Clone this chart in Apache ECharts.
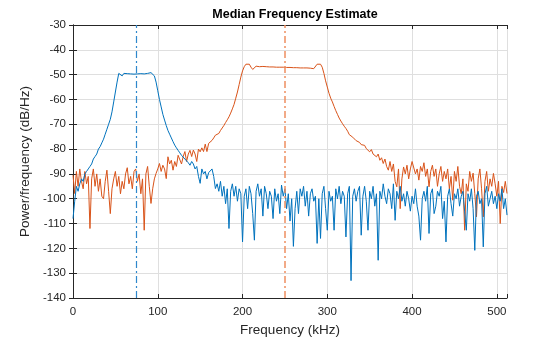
<!DOCTYPE html>
<html>
<head>
<meta charset="utf-8">
<script src="https://cdn.jsdelivr.net/npm/echarts@6/dist/echarts.min.js"></script>
<style>html,body{margin:0;padding:0;background:#fff;}#c{width:560px;height:337px;}</style>
</head>
<body>
<div id="c"></div>
<script>
// Frequency grid (kHz), step between samples
const freqStep = 2;
const xTicks = [0, 100, 200, 300, 400, 500];
const yTicks = [-140, -130, -120, -110, -100, -90, -80, -70, -60, -50, -40, -30];
const medianFreqBlue = 75;
const medianFreqOrange = 250;

// Series 1 (blue) power in dB/Hz at 0,2,4,...,512 kHz
const powerBlue = [
-108,-101,-95,-97,-94,-92,-93,-90,-89,-88,
-87,-86,-84,-83,-82,-80,-79,-77.5,-76,-74,
-72,-70,-68,-65,-61,-57,-53,-49.5,-49,-50.5,
-49.5,-50.2,-49.6,-50.1,-49.7,-50,-49.8,-50.1,-49.7,-50,
-49.6,-50.2,-49.7,-50.1,-49.5,-50.3,-49.2,-48.9,-50.5,-53,
-56.5,-60,-63,-66,-68.3,-70.5,-72.5,-74,-75.5,-77,
-78.4,-79.5,-80.5,-81.5,-82.5,-83.2,-84,-84.8,-85.5,-86.5,
-85,-86,-88,-87,-91,-93.8,-88,-90,-89,-92,
-89.5,-90,-88,-91,-95.9,-94,-97,-93,-99,-95,
-102,-96,-112,-97,-94,-99,-95,-101,-96,-98,
-117.4,-99,-96,-104,-95,-98,-106,-116.7,-97,-94,
-99,-96,-107,-95,-98,-104,-97,-99,-108,-96,
-101,-98,-106,-94.5,-99,-96,-104,-98,-109,-100,
-119.2,-104,-97,-106,-96,-99,-95,-103,-97,-107,
-98,-96,-101,-99,-118,-100,-116,-98,-95,-104,
-112.7,-97,-101,-99,-112.7,-96,-100,-95,-102,-97,
-99,-115.4,-98,-95,-133,-99,-96,-101,-97,-95,
-114.7,-99,-95,-101,-112.7,-97,-100,-95,-103,-98,
-124.8,-97,-100,-94,-99,-102,-96,-98,-104,-94,
-108.7,-97,-100,-95,-101,-98,-103,-97,-100,-105,
-99,-102,-96,-103,-107,-116.7,-100,-97,-101,-95,
-114,-98,-96,-106,-103,-97,-99,-95,-108,-101,
-117.4,-99,-96,-102,-107,-98,-100,-96,-103,-99,
-97,-105,-112.7,-98,-101,-96,-104,-120.8,-99,-97,
-102,-100,-119.4,-98,-95,-103,-100,-97,-102,-99,
-104,-98,-101,-96,-104,-100,-106.6
];

// Series 2 (orange) power in dB/Hz at 0,2,4,...,512 kHz
const powerOrange = [
-90.5,-97.9,-89,-95,-88,-93,-96,-89,-94,-91,
-112,-92,-88,-95,-90,-97,-92,-99,-100,-93,
-88.5,-97,-106,-96,-92,-89,-95,-91,-98,-93,
-96,-90,-87.5,-94,-91,-96,-89,-88,-93,-90,
-98,-92,-112.7,-90,-87,-95,-101.9,-96,-92,-89.8,
-88,-85.8,-89,-86.5,-88,-91.9,-83.1,-86,-84.5,-88.5,
-85,-87,-82.5,-83.1,-86,-83,-81,-85,-82,-80.5,
-83,-80.4,-82,-85,-80,-81.1,-79.5,-81,-78,-81,
-77.7,-78.5,-76.5,-75.5,-74.4,-74,-73.7,-72.5,-71.5,-70.5,
-69.3,-68.2,-67,-65.5,-63.8,-62,-59.5,-57,-54,-51,
-48.5,-46.8,-45.8,-45.5,-45.8,-47,-47.9,-47.2,-46.6,-47.3,
-46.8,-47.2,-46.7,-47.3,-46.8,-47.2,-46.9,-47.2,-46.9,-47.1,
-47,-47.1,-47,-47.1,-47,-47,-47.1,-47,-47.1,-46.9,
-47.2,-46.9,-47.2,-46.8,-47.3,-46.7,-47.3,-46.7,-47.3,-46.6,
-47.4,-46.8,-47.6,-47.2,-45.8,-45.5,-45.8,-47,-49.5,-52.5,
-55,-57.5,-59.5,-61,-62.8,-64.5,-66,-67.5,-68.7,-69.8,
-70.8,-71.7,-72.8,-74.2,-74.6,-75.2,-75.8,-76.6,-76.2,-77.3,
-78.2,-79,-78.5,-79.8,-80.4,-81.1,-80.2,-82,-81.5,-83.1,
-82,-84.5,-83.5,-85.8,-84,-87,-88.5,-85,-89,-86,
-93,-95.2,-88,-104,-92,-87.2,-90,-86.5,-92,-88,
-85,-84.5,-90,-88,-92.5,-87,-89,-85.5,-91,-88,
-95.2,-89,-86.5,-91,-88,-95,-90,-87,-93,-89,
-92,-88,-96,-91,-100.6,-89,-93,-87,-95,-98,
-92,-112.7,-94,-97,-89,-93,-89.7,-98,-107.3,-92,
-88,-96,-107.3,-93,-89,-97,-92,-95,-89.8,-94,
-99,-93,-110,-95,-97.5,-93,-97.9
];

const blue = '#0072BD';
const orange = '#D95319';
const toPairs = arr => arr.map((v, i) => [i * freqStep, v]);

const chart = echarts.init(document.getElementById('c'), null, {renderer: 'canvas'});
const font = '"Liberation Sans", Arial, Helvetica, sans-serif';
const axisCommon = {
  axisLine: {show: true, lineStyle: {color: '#262626', width: 1}},
  axisTick: {show: true, inside: true, length: 4, lineStyle: {color: '#262626'}},
};
chart.setOption({
  animation: false,
  backgroundColor: '#fff',
  title: {
    text: 'Median Frequency Estimate',
    left: 290, top: 3, textAlign: 'center',
    textStyle: {fontFamily: font, fontSize: 12.5, fontWeight: 'bold', color: '#000'}
  },
  grid: {left: 73, right: 53, top: 25, bottom: 39, containLabel: false, outerBoundsMode: 'none'},
  xAxis: [{
    type: 'value', min: 0, max: 512, interval: 100,
    name: 'Frequency (kHz)', nameLocation: 'middle', nameGap: 21,
    nameTextStyle: {fontFamily: font, fontSize: 13.5, color: '#262626'},
    ...axisCommon,
    axisLabel: {fontFamily: font, fontSize: 11.5, color: '#262626', margin: 8,
      formatter: v => xTicks.includes(v) ? String(v) : ''},
    splitLine: {show: true, lineStyle: {color: '#DFDFDF', width: 1}}
  }, {
    type: 'value', min: 0, max: 512, interval: 100, position: 'top',
    ...axisCommon, axisLabel: {show: false}, splitLine: {show: false}
  }],
  yAxis: [{
    type: 'value', min: -140, max: -30, interval: 10,
    name: 'Power/frequency (dB/Hz)', nameLocation: 'middle', nameGap: 36,
    nameTextStyle: {fontFamily: font, fontSize: 13.5, color: '#262626'},
    ...axisCommon,
    axisLabel: {fontFamily: font, fontSize: 11.5, color: '#262626', margin: 7,
      formatter: v => yTicks.includes(v) ? String(v) : ''},
    splitLine: {show: true, lineStyle: {color: '#DFDFDF', width: 1}}
  }, {
    type: 'value', min: -140, max: -30, interval: 10, position: 'right',
    ...axisCommon, axisLabel: {show: false}, splitLine: {show: false}
  }],
  series: [{
    type: 'line', data: toPairs(powerBlue), showSymbol: false, symbol: 'none',
    lineStyle: {color: blue, width: 1}, itemStyle: {color: blue}, z: 3,
    markLine: {symbol: 'none', silent: true, label: {show: false},
      lineStyle: {color: '#2F88CC', width: 1.2, type: [7, 3, 2, 3]},
      data: [{xAxis: medianFreqBlue}]}
  }, {
    type: 'line', data: toPairs(powerOrange), showSymbol: false, symbol: 'none',
    lineStyle: {color: orange, width: 1}, itemStyle: {color: orange}, z: 2,
    markLine: {symbol: 'none', silent: true, label: {show: false},
      lineStyle: {color: '#EE8F60', width: 1.5, type: [7, 3, 2, 3]},
      data: [{xAxis: medianFreqOrange}]}
  }]
});
</script>
</body>
</html>
